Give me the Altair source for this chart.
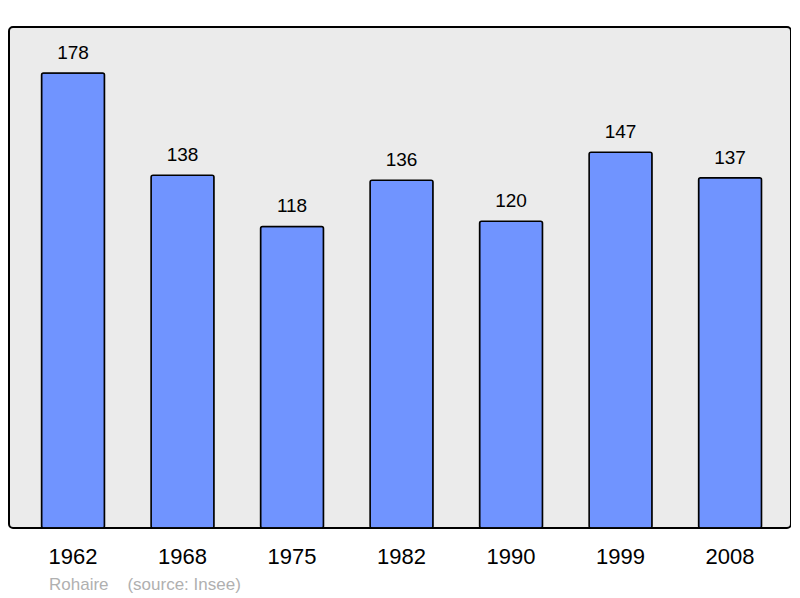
import altair as alt
import pandas as pd

years = ["1962", "1968", "1975", "1982", "1990", "1999", "2008"]
population = [178, 138, 118, 136, 120, 147, 137]
source_text = "Rohaire\u00a0\u00a0\u00a0\u00a0(source: Insee)"

df = pd.DataFrame({"year": years, "pop": population})

FONT = "Liberation Sans"

x = alt.X("year:N", sort=years, title=None,
          scale=alt.Scale(paddingInner=0.425, paddingOuter=0.283, align=0.525),
          axis=alt.Axis(labelAngle=0, labelFontSize=22, labelColor="black",
                        labelFont=FONT, ticks=False, tickSize=0, domain=False,
                        labelPadding=18))
y = alt.Y("pop:Q", scale=alt.Scale(domain=[0, 196], nice=False, zero=True),
          axis=None)

bars = alt.Chart(df).mark_bar(color="#7094ff", stroke="black", strokeWidth=1.5,
                              cornerRadius=2).encode(x=x, y=y)
labels = alt.Chart(df).mark_text(fontSize=19, font=FONT, color="black",
                                 baseline="alphabetic", dy=-14).encode(
    x=x, y=y, text="pop:Q")

chart = alt.layer(bars, labels).properties(
    width=782, height=501,
    padding={"left": 1, "top": 19, "right": 0, "bottom": 0},
    title=alt.TitleParams(source_text, orient="bottom", anchor="start",
                          fontSize=17, font=FONT, fontWeight="normal",
                          color="#b0b0b0", dx=40, offset=10),
).configure_view(
    fill="#ebebeb", stroke="black", strokeWidth=2, cornerRadius=4
)

chart.save("out.html", embed_options={"renderer": "svg", "actions": False})
